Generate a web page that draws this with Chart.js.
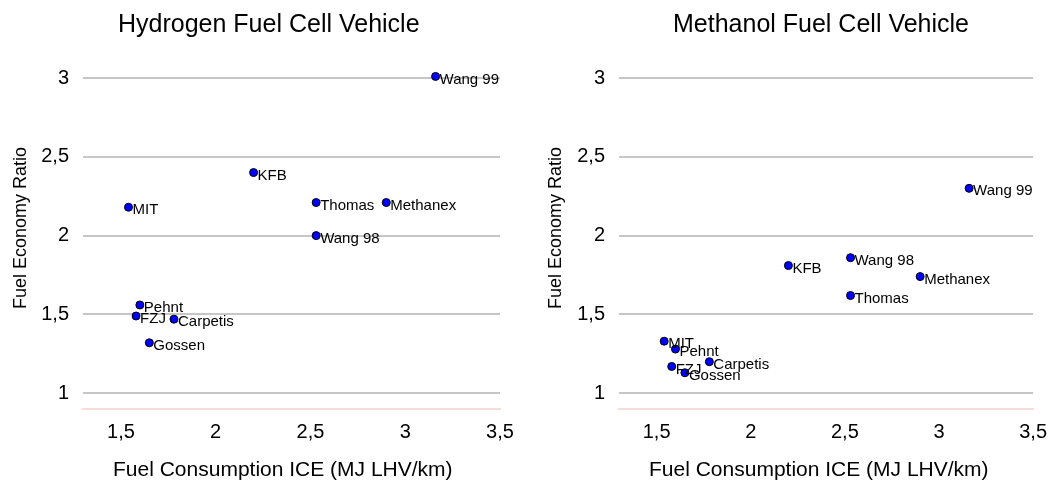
<!DOCTYPE html>
<html>
<head>
<meta charset="utf-8">
<title>Fuel Economy Ratio vs. ICE Fuel Consumption</title>
<script src="https://cdn.jsdelivr.net/npm/chart.js@4/dist/chart.umd.min.js"></script>
<style>
  html, body { margin: 0; padding: 0; background: #ffffff; }
  #wrap { position: relative; width: 1058px; height: 484px; overflow: hidden; background: #ffffff; }
  canvas { position: absolute; top: 0; }
  #h2 { left: 0; }
  #meoh { left: 536px; }
</style>
</head>
<body>
<div id="wrap">
  <canvas id="h2" width="536" height="484"></canvas>
  <canvas id="meoh" width="522" height="484"></canvas>
</div>
<script>
// Study / source of each estimate
const sources = ['Wang 99', 'KFB', 'MIT', 'Thomas', 'Methanex', 'Wang 98', 'Pehnt', 'FZJ', 'Carpetis', 'Gossen'];
// Reference ICE vehicle fuel consumption (MJ LHV/km), same for both panels
const iceConsumption = [3.16, 2.20, 1.54, 2.53, 2.90, 2.53, 1.60, 1.58, 1.78, 1.65];
// Fuel economy ratio of the fuel cell vehicle vs. the ICE vehicle
const hydrogenRatio = [3.01, 2.40, 2.18, 2.21, 2.21, 2.00, 1.56, 1.49, 1.47, 1.32];
const methanolRatio = [2.30, 1.81, 1.33, 1.62, 1.74, 1.86, 1.28, 1.17, 1.20, 1.13];
// Axis ticks
const xTicks = [1.5, 2, 2.5, 3, 3.5];
const yTicks = [1, 1.5, 2, 2.5, 3];

const FONT = '"Liberation Sans", Arial, Helvetica, sans-serif';
Chart.defaults.font.family = FONT;
Chart.defaults.color = '#000000';

const fmt = v => String(v).replace('.', ',');

function makePanel(canvasId, title, ratios, layout) {
  const points = iceConsumption.map((x, i) => ({ x: x, y: ratios[i] }));

  const textPlugin = {
    id: 'panelText',
    afterDatasetsDraw(chart) {
      const ctx = chart.ctx;
      const meta = chart.getDatasetMeta(0);
      ctx.save();
      ctx.fillStyle = '#000000';
      // point labels, placed just right of each marker
      ctx.font = '15px ' + FONT;
      ctx.textAlign = 'left';
      ctx.textBaseline = 'middle';
      meta.data.forEach((pt, i) => {
        ctx.fillText(sources[i], pt.x + 4, pt.y + 3);
      });
      ctx.restore();
    },
    afterDraw(chart) {
      const ctx = chart.ctx;
      ctx.save();
      ctx.fillStyle = '#000000';
      // panel heading
      ctx.font = '25px ' + FONT;
      ctx.textAlign = 'left';
      ctx.textBaseline = 'alphabetic';
      ctx.fillText(title, layout.titleX, 32);
      // x axis title
      ctx.font = '21px ' + FONT;
      ctx.fillText('Fuel Consumption ICE (MJ LHV/km)', layout.xTitleX, 476);
      // y axis title
      ctx.font = '18px ' + FONT;
      ctx.translate(layout.yTitleX, 228);
      ctx.rotate(-Math.PI / 2);
      ctx.textAlign = 'center';
      ctx.textBaseline = 'middle';
      ctx.fillText('Fuel Economy Ratio', 0, 0);
      ctx.restore();
    }
  };

  return new Chart(document.getElementById(canvasId), {
    type: 'scatter',
    data: {
      datasets: [{
        data: points,
        showLine: false,
        clip: false,
        pointRadius: 4,
        pointHoverRadius: 4,
        pointBackgroundColor: '#0000ff',
        pointBorderColor: '#000000',
        pointBorderWidth: 1
      }]
    },
    options: {
      responsive: false,
      animation: false,
      devicePixelRatio: 1,
      layout: { padding: { left: 0, right: layout.rightPad, top: 78, bottom: 0 } },
      plugins: {
        legend: { display: false },
        tooltip: { enabled: false },
        title: { display: false }
      },
      scales: {
        x: {
          type: 'linear',
          min: 1.3,
          max: 3.5,
          afterBuildTicks: s => { s.ticks = xTicks.map(v => ({ value: v })); },
          afterFit: s => { s.height = 75; },
          grid: { display: false, drawTicks: false },
          border: { display: true, color: '#f8dcd5', width: 2 },
          ticks: { padding: 11, color: '#000000', font: { size: 20 }, callback: v => fmt(v), maxRotation: 0 }
        },
        y: {
          type: 'linear',
          min: 0.9,
          max: 3,
          afterBuildTicks: s => { s.ticks = yTicks.map(v => ({ value: v })); },
          afterFit: s => { s.width = 83; },
          grid: { color: '#c6c6c6', lineWidth: 2, drawTicks: false },
          border: { display: false },
          ticks: { padding: 14, color: '#000000', font: { size: 20 }, callback: v => fmt(v) }
        }
      }
    },
    plugins: [textPlugin]
  });
}

makePanel('h2', 'Hydrogen Fuel Cell Vehicle', hydrogenRatio,
  { titleX: 118, xTitleX: 113, yTitleX: 21, rightPad: 36 });
makePanel('meoh', 'Methanol Fuel Cell Vehicle', methanolRatio,
  { titleX: 137, xTitleX: 113, yTitleX: 20, rightPad: 20 });
</script>
</body>
</html>
